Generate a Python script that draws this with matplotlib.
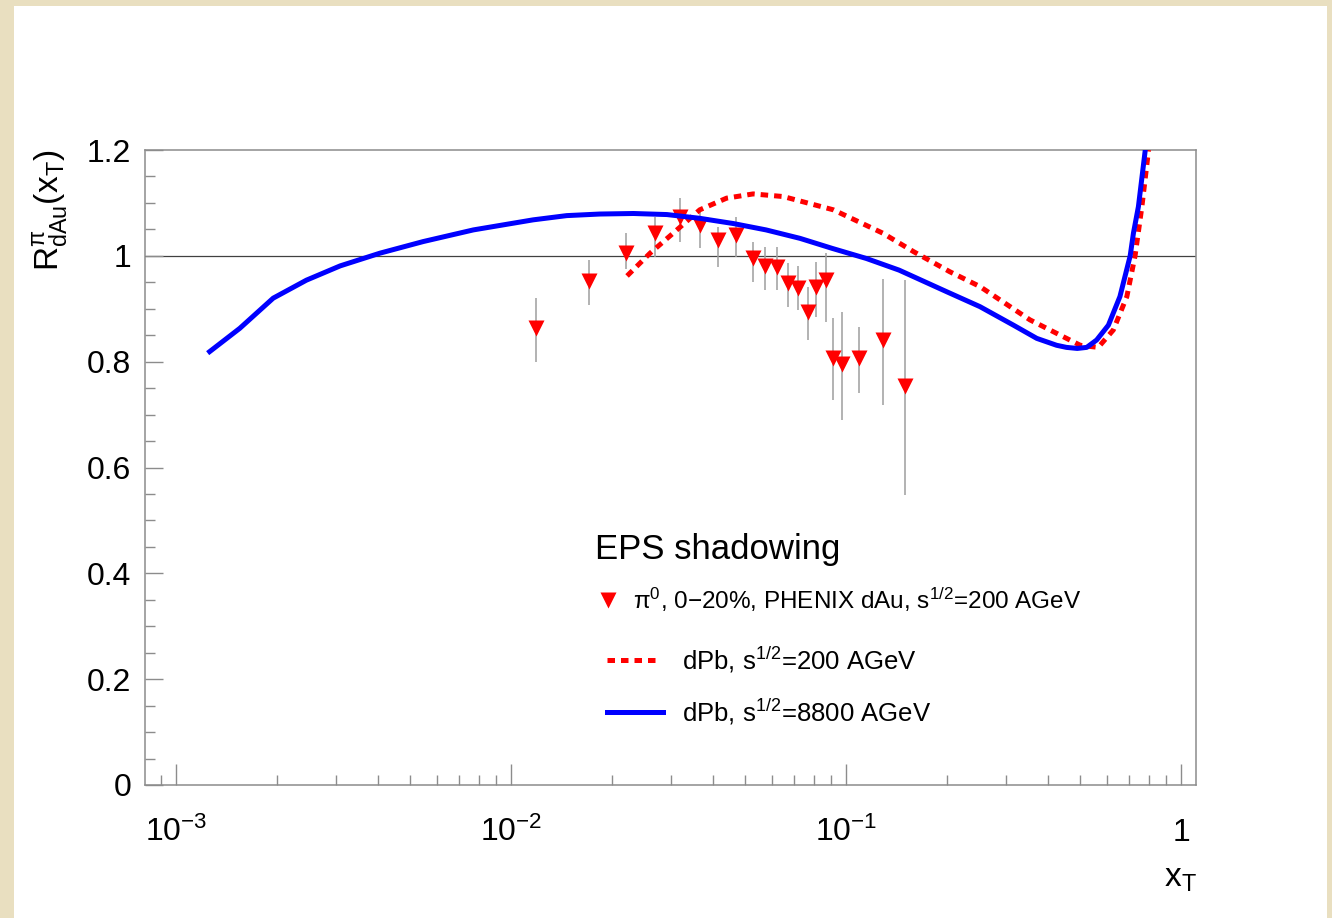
import matplotlib
matplotlib.use("Agg")
import matplotlib.pyplot as plt
from matplotlib.patches import Rectangle
from matplotlib.lines import Line2D
from matplotlib.ticker import LogLocator, FixedLocator, NullFormatter

plt.rcParams['font.family'] = ['Liberation Sans', 'DejaVu Sans']
plt.rcParams['mathtext.default'] = 'regular'

# PHENIX pi0 dAu points (x_T, R, low, high)
phenix_x = [0.0119, 0.0171, 0.0221, 0.0269, 0.0320, 0.0367, 0.0416, 0.0471,
            0.0526, 0.0573, 0.0624, 0.0673, 0.0721, 0.0770, 0.0812, 0.0870,
            0.0916, 0.0975, 0.1094, 0.1292, 0.1496]
phenix_y = [0.863, 0.953, 1.006, 1.044, 1.074, 1.058, 1.029, 1.039,
            0.995, 0.981, 0.978, 0.948, 0.939, 0.894, 0.942, 0.954,
            0.806, 0.795, 0.806, 0.841, 0.754]
phenix_lo = [0.800, 0.907, 0.976, 0.998, 1.027, 1.014, 0.979, 0.998,
             0.951, 0.935, 0.935, 0.904, 0.897, 0.841, 0.885, 0.875,
             0.727, 0.690, 0.740, 0.718, 0.548]
phenix_hi = [0.920, 0.992, 1.043, 1.074, 1.109, 1.087, 1.055, 1.074,
             1.027, 1.017, 1.017, 0.986, 0.980, 0.942, 0.989, 1.005,
             0.882, 0.894, 0.866, 0.957, 0.954]

# EPS dPb 200 AGeV (dashed red)
eps200_x = [0.0222, 0.0260, 0.0305, 0.0366, 0.0440, 0.0528, 0.065, 0.0916,
            0.1286, 0.159, 0.204, 0.251, 0.354, 0.500, 0.566, 0.628,
            0.689, 0.729, 0.764, 0.800]
eps200_y = [0.962, 1.005, 1.043, 1.087, 1.109, 1.117, 1.112, 1.087,
            1.043, 1.008, 0.970, 0.942, 0.879, 0.831, 0.827, 0.860,
            0.923, 1.000, 1.093, 1.200]

# EPS dPb 8800 AGeV (solid blue)
eps8800_x = [0.00126, 0.00155, 0.00195, 0.00245, 0.00309, 0.00406, 0.00547,
             0.00772, 0.01164, 0.01466, 0.0184, 0.0232, 0.0292, 0.0365,
             0.0461, 0.0577, 0.0729, 0.091, 0.115, 0.144, 0.200, 0.251,
             0.316, 0.371, 0.425, 0.455, 0.490, 0.523, 0.560, 0.607, 0.657,
             0.705, 0.721, 0.746, 0.782]
eps8800_y = [0.819, 0.863, 0.920, 0.954, 0.981, 1.005, 1.027, 1.049, 1.068,
             1.076, 1.079, 1.080, 1.078, 1.071, 1.061, 1.049, 1.033, 1.014,
             0.995, 0.973, 0.932, 0.904, 0.869, 0.844, 0.831, 0.827, 0.825,
             0.827, 0.841, 0.869, 0.923, 1.000, 1.043, 1.093, 1.200]

y_ticks = [0, 0.2, 0.4, 0.6, 0.8, 1.0, 1.2]
y_labels = ['0', '0.2', '0.4', '0.6', '0.8', '1', '1.2']
x_ticks = [1e-3, 1e-2, 1e-1, 1]
x_labels = ['$10^{-3}$', '$10^{-2}$', '$10^{-1}$', '1']

W, H = 1332, 918
BEIGE = '#e9dfc0'
FRAME = '#8c8c8c'


def fx(px):
    return px / W


def fy(py):
    return 1 - py / H


fig = plt.figure(figsize=(W / 100, H / 100), dpi=100, facecolor=BEIGE)
fig.add_artist(Rectangle((fx(14), 0), fx(1327 - 14), (H - 6) / H,
                         transform=fig.transFigure, facecolor='white',
                         edgecolor='none', zorder=-1))

ax = fig.add_axes([fx(145), fy(785), fx(1195.7 - 145), (785 - 150) / H])
ax.set_facecolor('white')
ax.set_xscale('log')
ax.set_xlim(8.08e-4, 1.106)
ax.set_ylim(0, 1.2)

ax.axhline(1.0, color='0.25', lw=0.9, zorder=1)

ax.errorbar(phenix_x, phenix_y,
            yerr=[[y - lo for y, lo in zip(phenix_y, phenix_lo)],
                  [hi - y for y, hi in zip(phenix_y, phenix_hi)]],
            fmt='none', ecolor='0.62', elinewidth=1.1, capsize=0, zorder=2)
ax.plot(phenix_x, phenix_y, 'v', color='#ff0000', ms=11, mec='none', zorder=3)

ax.plot(eps200_x, eps200_y, color='#ff0000', lw=3.6,
        linestyle=(0, (1.5, 1.2)), zorder=4)
ax.plot(eps8800_x, eps8800_y, color='#0000ff', lw=3.6, zorder=5,
        solid_joinstyle='round')

# axes styling (ROOT look)
for sp in ax.spines.values():
    sp.set_color(FRAME)
    sp.set_linewidth(1.1)

ax.xaxis.set_major_locator(FixedLocator(x_ticks))
ax.set_xticklabels(x_labels)
ax.xaxis.set_minor_locator(LogLocator(base=10, subs=[2, 3, 4, 5, 6, 7, 8, 9]))
ax.xaxis.set_minor_formatter(NullFormatter())
ax.set_yticks(y_ticks)
ax.set_yticklabels(y_labels)
ax.set_yticks([i * 0.05 for i in range(25)], minor=True)

ax.tick_params(axis='both', which='both', direction='in', color=FRAME,
               labelsize=23, top=False, right=False)
ax.tick_params(axis='x', which='major', length=15, width=1.0, pad=40)
ax.tick_params(axis='x', which='minor', length=7, width=1.0)
ax.tick_params(axis='y', which='major', length=13, width=1.0, pad=10)
ax.tick_params(axis='y', which='minor', length=7, width=1.0)
for lab in ax.get_xticklabels():
    lab.set_va('baseline')

# axis titles
fig.text(fx(50), fy(150), r'R$^{\pi}_{dAu}$(x$_{T}$)', rotation=90,
         ha='center', va='top', fontsize=24)
fig.text(fx(1180), fy(878), 'x$_{T}$', ha='center', va='center', fontsize=24)

# legend drawn by hand
fig.text(fx(595), fy(550), 'EPS shadowing', ha='left', va='center',
         fontsize=25)
fig.add_artist(Line2D([fx(608)], [fy(600)], marker='v', color='#ff0000',
                      ms=12, mec='none', transform=fig.transFigure))
fig.text(fx(633), fy(600),
         'π$^{0}$, 0−20%, PHENIX dAu, s$^{1/2}$=200 AGeV',
         ha='left', va='center', fontsize=17.5)
fig.add_artist(Line2D([fx(607), fx(660)], [fy(660), fy(660)],
                      color='#ff0000', lw=3.6, linestyle=(0, (1.5, 1.2)),
                      transform=fig.transFigure))
fig.text(fx(682), fy(660), 'dPb, s$^{1/2}$=200 AGeV', ha='left',
         va='center', fontsize=18.5)
fig.add_artist(Line2D([fx(607), fx(663)], [fy(712), fy(712)],
                      color='#0000ff', lw=3.6, transform=fig.transFigure))
fig.text(fx(682), fy(712), 'dPb, s$^{1/2}$=8800 AGeV', ha='left',
         va='center', fontsize=18.5)

fig.savefig('out.png', dpi=100, facecolor=BEIGE)
